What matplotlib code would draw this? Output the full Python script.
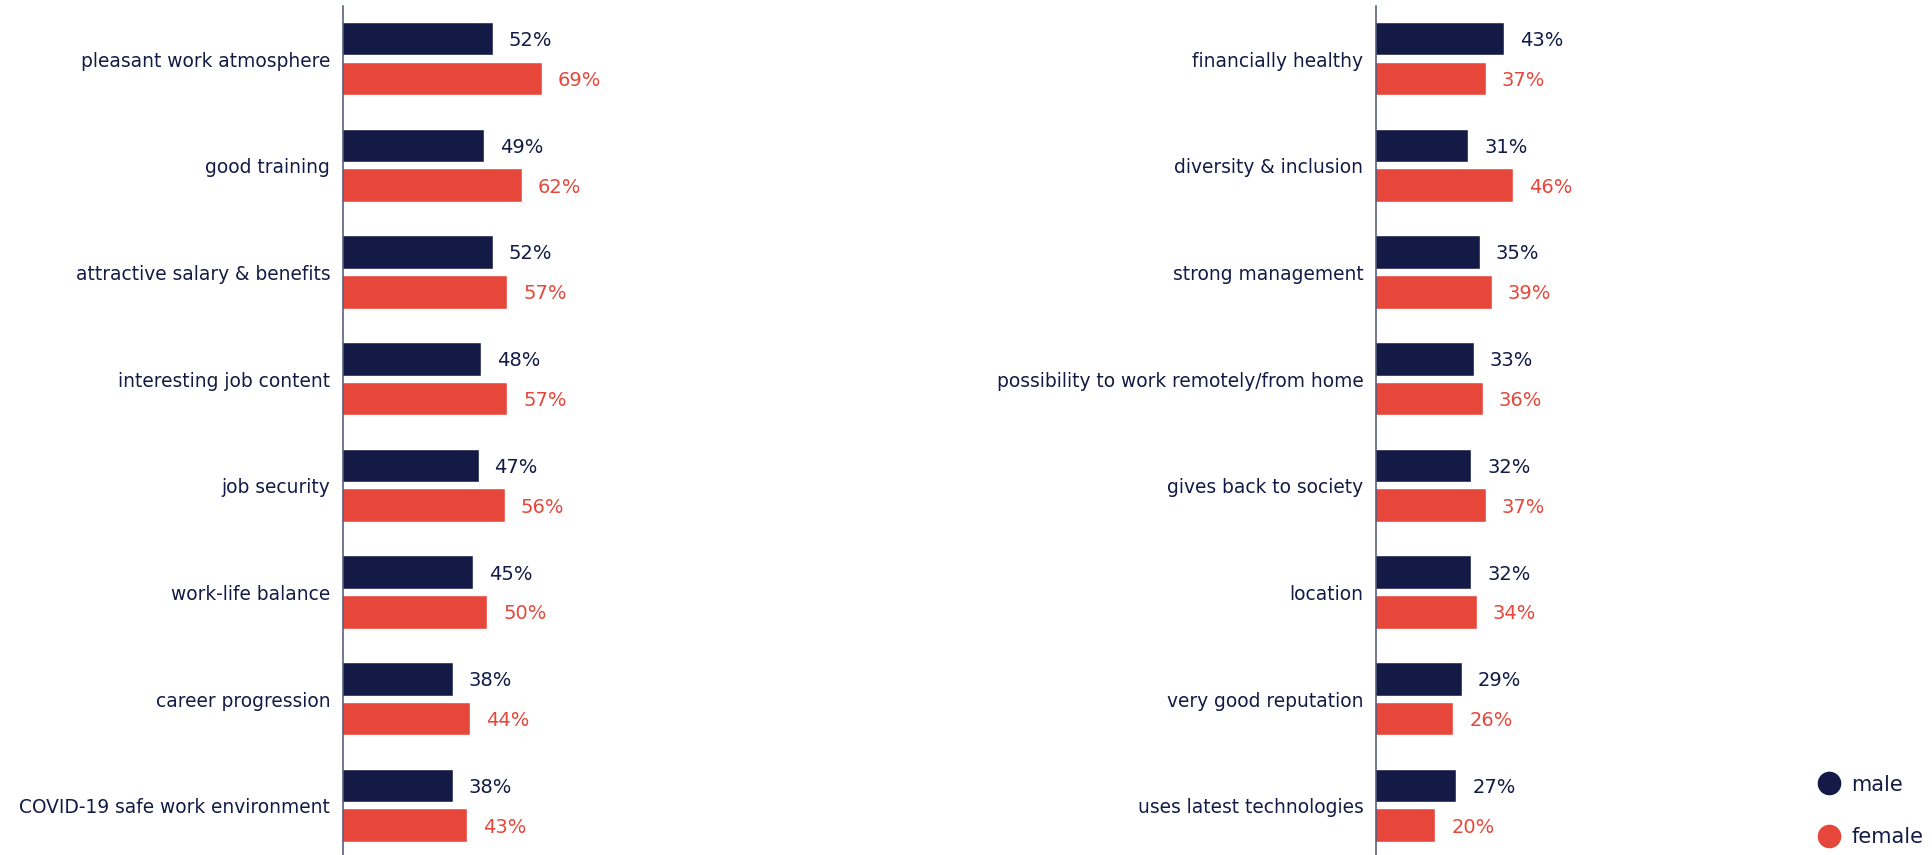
import matplotlib.pyplot as plt
from matplotlib.lines import Line2D

# attribute shares by gender, two panels of eight attributes each
left_labels = [
    "pleasant work atmosphere",
    "good training",
    "attractive salary & benefits",
    "interesting job content",
    "job security",
    "work-life balance",
    "career progression",
    "COVID-19 safe work environment",
]
left_male = [52, 49, 52, 48, 47, 45, 38, 38]
left_female = [69, 62, 57, 57, 56, 50, 44, 43]

right_labels = [
    "financially healthy",
    "diversity & inclusion",
    "strong management",
    "possibility to work remotely/from home",
    "gives back to society",
    "location",
    "very good reputation",
    "uses latest technologies",
]
right_male = [43, 31, 35, 33, 32, 32, 29, 27]
right_female = [37, 46, 39, 36, 37, 34, 26, 20]

NAVY = "#121A45"
RED = "#E6473A"
AXIS = "#4A5274"

W, H = 1932, 855
plt.rcParams["font.family"] = "DejaVu Sans"

fig = plt.figure(figsize=(W / 100, H / 100), dpi=100)


def panel(x0_px, width_px, labels, male, female):
    ax = fig.add_axes([x0_px / W, 0, width_px / W, (H - 6) / H])
    n = len(labels)
    pos = list(range(n))
    bh = 0.306
    off = 0.1865
    ax.barh([p - off for p in pos], male, height=bh, color=NAVY, edgecolor="white", linewidth=0.3)
    ax.barh([p + off for p in pos], female, height=bh, color=RED, edgecolor="white", linewidth=0.3)
    for p, m, f in zip(pos, male, female):
        ax.annotate(f"{m}%", xy=(m, p - off), xytext=(11.5, -1), textcoords="offset points",
                    ha="left", va="center", fontsize=14, color=NAVY)
        ax.annotate(f"{f}%", xy=(f, p + off), xytext=(11.5, -1), textcoords="offset points",
                    ha="left", va="center", fontsize=14, color=RED)
    ax.set_xlim(0, 100)
    ax.set_ylim(7.46, -0.497)
    ax.set_yticks(pos)
    ax.set_yticklabels(labels, fontsize=13.4, color=NAVY)
    ax.tick_params(axis="y", length=0, pad=9)
    ax.set_xticks([])
    for side in ["top", "right", "bottom"]:
        ax.spines[side].set_visible(False)
    ax.spines["left"].set_color(AXIS)
    ax.spines["left"].set_linewidth(1.1)
    ax.patch.set_alpha(0)
    return ax


panel(342.7, 289, left_labels, left_male, left_female)
panel(1376, 297, right_labels, right_male, right_female)

handles = [
    Line2D([], [], linestyle="none", marker="o", markersize=16, color=NAVY, label="male"),
    Line2D([], [], linestyle="none", marker="o", markersize=16, color=RED, label="female"),
]
fig.legend(handles=handles, loc="lower left", bbox_to_anchor=(1819 / W, 8 / H),
           frameon=False, fontsize=15, labelcolor=NAVY, handlelength=1.0,
           handletextpad=0.55, labelspacing=1.55, borderpad=0, borderaxespad=0)

fig.savefig("out.png", dpi=100)
